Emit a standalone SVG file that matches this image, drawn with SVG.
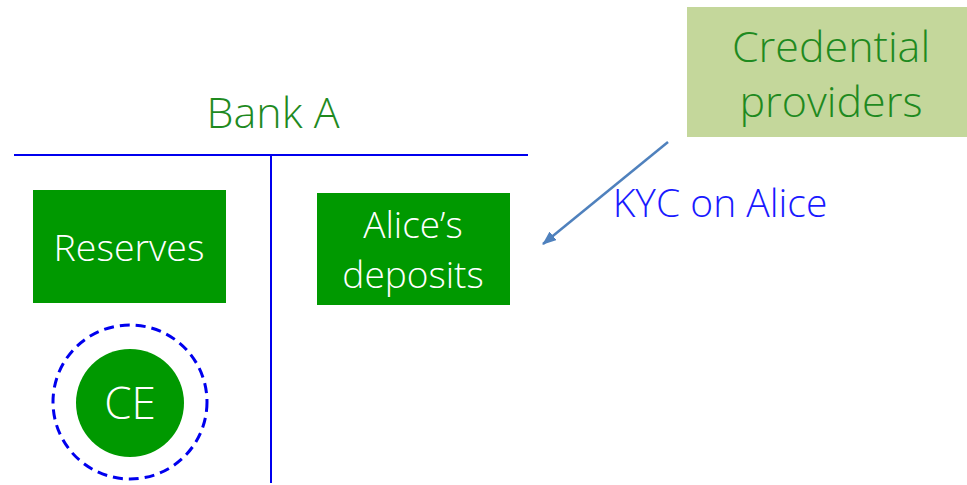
<svg xmlns="http://www.w3.org/2000/svg" width="967" height="485" viewBox="0 0 967 485">
<defs>
<style>
text{font-family:"Open Sans","Lato","Liberation Sans",sans-serif;font-weight:300;text-anchor:middle}
.box{fill:#009900}
.w{fill:#ffffff;font-size:37px}
.t{stroke:#0000ee;stroke-width:2;fill:none}
.g{fill:#1f8a1f}
</style>
<marker id="ah" markerWidth="14" markerHeight="11" refX="13" refY="5.5" orient="auto" markerUnits="userSpaceOnUse" viewBox="0 0 14 11">
<path d="M0,0 L14,5.5 L0,11 z" fill="#4f81bd"/>
</marker>
</defs>
<rect width="967" height="485" fill="#ffffff"/>
<g id="taccount">
<text class="g" x="273" y="128" style="font-size:43px">Bank A</text>
<line class="t" x1="14" y1="155" x2="528" y2="155"/>
<line class="t" x1="271" y1="155" x2="271" y2="483"/>
</g>
<g id="reserves">
<rect class="box" x="33" y="190" width="193" height="113"/>
<text class="w" x="129" y="261" style="font-size:37.5px">Reserves</text>
</g>
<g id="deposits">
<rect class="box" x="317" y="193" width="193" height="112"/>
<text class="w" x="413" y="238">Alice’s</text>
<text class="w" x="413" y="288">deposits</text>
</g>
<g id="ce">
<circle cx="130" cy="402" r="77" fill="none" stroke="#0000ee" stroke-width="3" stroke-dasharray="10,6"/>
<circle class="box" cx="130" cy="403" r="54"/>
<text class="w" x="130" y="419" style="font-size:44px">CE</text>
</g>
<g id="credential">
<rect x="687" y="7" width="280" height="130" fill="#c4d79b"/>
<text class="g" x="831" y="62" style="font-size:43px">Credential</text>
<text class="g" x="831" y="117" style="font-size:43px">providers</text>
</g>
<g id="connectors">
<line x1="668" y1="142" x2="543" y2="244" stroke="#4f81bd" stroke-width="2.5" marker-end="url(#ah)"/>
<text x="720" y="217" style="font-size:39px;fill:#1a1aff">KYC on Alice</text>
</g>
</svg>
